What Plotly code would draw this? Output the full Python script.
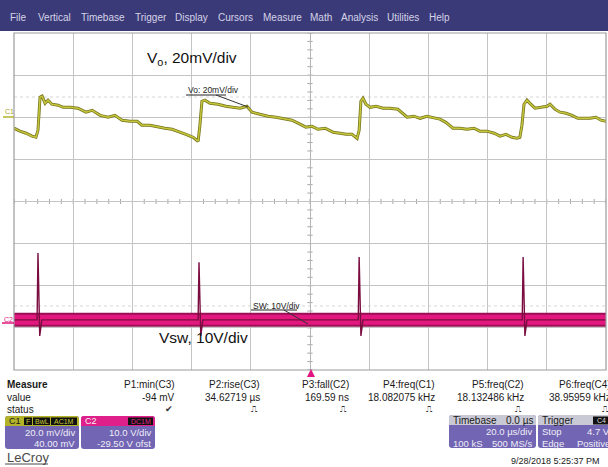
import plotly.graph_objects as go

W, H = 608, 467
FONT = "Liberation Sans, Arial, sans-serif"

# ---------------- data ----------------
# C1: Vo ripple, AC coupled, time in microseconds, value in mV
vo_t = [-100.0, -98.0, -95.9, -93.9, -92.6, -91.9, -91.2, -90.5, -89.5, -88.5, -87.2, -85.1,
        -83.4, -81.1, -78.4, -75.7, -73.6, -70.9, -68.2, -65.9, -63.5, -60.8, -58.4, -56.8,
        -54.1, -51.4, -49.0, -46.6, -44.6, -41.9, -39.5, -37.8, -37.2, -36.5, -35.5, -33.8,
        -31.1, -28.4, -26.0, -23.6, -21.3, -19.6, -16.9, -14.2, -11.5, -9.1, -6.1, -3.4,
        -1.4, 0.7, 2.7, 5.1, 7.8, 10.1, 12.2, 14.2, 15.9, 16.6, 17.2, 17.9,
        18.9, 20.3, 22.3, 24.7, 27.0, 29.7, 31.1, 32.8, 35.1, 37.2, 39.5, 41.6,
        43.9, 45.9, 48.3, 50.7, 53.0, 55.4, 57.4, 59.8, 62.2, 64.2, 66.2, 68.2,
        69.9, 70.9, 71.6, 72.3, 73.3, 74.3, 76.0, 78.0, 80.1, 81.1, 82.8, 84.5,
        86.5, 88.5, 90.5, 92.6, 94.6, 96.6, 98.3, 100.0]
vo_mv = [-5.2, -6.6, -7.6, -9.0, -9.5, -6.2, 9.5, 10.0, 6.6, 8.1, 6.2, 5.7,
         4.7, 4.7, 4.3, 2.4, 3.3, 0.9, 0.0, 0.9, -1.4, -1.9, -1.9, -3.8,
         -3.8, -4.7, -5.2, -5.7, -6.6, -8.1, -9.5, -11.4, -3.8, 7.6, 8.1, 6.6,
         6.2, 5.2, 4.7, 4.3, 5.2, 2.4, 1.4, 0.5, 0.0, -0.5, -1.4, -3.3,
         -4.7, -4.3, -5.7, -5.2, -7.1, -7.6, -8.1, -8.1, -10.0, -6.2, 7.6, 9.0,
         6.2, 4.7, 5.2, 4.3, 4.3, 3.8, 1.9, 0.0, 0.5, -0.5, 0.5, 0.0,
         -0.9, -2.4, -5.2, -5.2, -5.7, -5.2, -6.6, -6.6, -7.6, -9.0, -8.1, -9.5,
         -10.0, -9.5, -3.8, 6.2, 8.1, 6.6, 4.3, 4.7, 5.2, 6.2, 3.8, 2.4,
         1.9, 0.9, -0.5, -0.5, -0.5, 0.0, -1.4, -1.9]

# C2: switch node, time in microseconds, value in volts
sw_t = [-100.0, -92.2, -91.9, -91.6, -91.3, -90.6, -37.8, -37.5, -37.2, -36.9, -36.2,
        16.3, 16.6, 16.9, 17.2, 17.9, 71.7, 72.0, 72.3, 72.6, 73.3, 100.0]
sw_v = [1.4, 1.4, 17.3, 1.4, -2.4, 1.4, 1.4, 15.1, 1.4, -2.4, 1.4,
        1.4, 16.3, 1.4, -2.4, 1.4, 1.4, 16.3, 1.4, -2.4, 1.4, 1.4]
sw_band_t = [-100.0, 100.0]
sw_band_v = [1.4, 1.4]

menu_items = ["File", "Vertical", "Timebase", "Trigger", "Display", "Cursors",
              "Measure", "Math", "Analysis", "Utilities", "Help"]
meas_labels = ["P1:min(C3)", "P2:rise(C3)", "P3:fall(C2)", "P4:freq(C1)",
               "P5:freq(C2)", "P6:freq(C4)"]
meas_values = ["-94 mV", "34.62719 µs", "169.59 ns", "18.082075 kHz",
               "18.132486 kHz", "38.95959 kHz"]
meas_status = ["✔", "⎍", "⎍", "⎍", "⎍", "⎍"]

# ---------------- helpers ----------------
def px(x):
    return x / W

def py(y):
    return 1 - y / H

def ann(x, y, text, size=10, color="#1a1a1a", xa="left", ya="middle", bold=False):
    if bold:
        text = "<b>" + text + "</b>"
    return dict(x=px(x), y=py(y), xref="paper", yref="paper", text=text,
                showarrow=False, xanchor=xa, yanchor=ya,
                font=dict(family=FONT, size=size, color=color))

def rect(x0, y0, x1, y1, fill, line=None):
    return dict(type="rect", xref="paper", yref="paper", x0=px(x0), x1=px(x1),
                y0=py(y1), y1=py(y0), fillcolor=fill,
                line=dict(width=0 if line is None else 1, color=line or fill), layer="above")

def rrect(x0, y0, x1, y1, r, fill, top_only=False):
    rx, ry = r / W, r / H
    X0, X1, Y0, Y1 = px(x0), px(x1), py(y1), py(y0)  # Y0 bottom, Y1 top
    if top_only:
        p = (f"M{X0},{Y0} L{X0},{Y1-ry} Q{X0},{Y1} {X0+rx},{Y1} L{X1-rx},{Y1} "
             f"Q{X1},{Y1} {X1},{Y1-ry} L{X1},{Y0} Z")
    else:
        p = (f"M{X0+rx},{Y0} L{X1-rx},{Y0} Q{X1},{Y0} {X1},{Y0+ry} L{X1},{Y1-ry} "
             f"Q{X1},{Y1} {X1-rx},{Y1} L{X0+rx},{Y1} Q{X0},{Y1} {X0},{Y1-ry} "
             f"L{X0},{Y0+ry} Q{X0},{Y0} {X0+rx},{Y0} Z")
    return dict(type="path", xref="paper", yref="paper", path=p, fillcolor=fill,
                line=dict(width=0), layer="above")

def pline(x0, y0, x1, y1, color, width=1, dash="solid"):
    return dict(type="line", xref="paper", yref="paper", x0=px(x0), y0=py(y0),
                x1=px(x1), y1=py(y1), line=dict(color=color, width=width, dash=dash),
                layer="above")

# ---------------- figure ----------------
fig = go.Figure()

# C2 band and spikes (on the volts axis)
fig.add_trace(go.Scatter(x=sw_band_t, y=sw_band_v, yaxis="y2", mode="lines",
                         line=dict(color="#9a0f55", width=14), hoverinfo="skip", showlegend=False))
fig.add_trace(go.Scatter(x=sw_band_t, y=sw_band_v, yaxis="y2", mode="lines",
                         line=dict(color="#e3187f", width=10), hoverinfo="skip", showlegend=False))
fig.add_trace(go.Scatter(x=sw_t, y=sw_v, yaxis="y2", mode="lines",
                         line=dict(color="#7a0c40", width=1.4), hoverinfo="skip", showlegend=False))

# C1 ripple (on the mV axis)
fig.add_trace(go.Scatter(x=vo_t, y=vo_mv, mode="lines",
                         line=dict(color="#74741e", width=3.0), hoverinfo="skip", showlegend=False))
fig.add_trace(go.Scatter(x=vo_t, y=vo_mv, mode="lines",
                         line=dict(color="#c6c63a", width=1.5), hoverinfo="skip", showlegend=False))

dom_x = [px(14), px(606)]
dom_y = [py(370), py(33)]

fig.update_layout(
    width=W, height=H, margin=dict(l=0, r=0, t=0, b=0),
    paper_bgcolor="white", plot_bgcolor="white", showlegend=False,
    xaxis=dict(domain=dom_x, range=[-100, 100], tick0=0, dtick=20, showgrid=True,
               gridcolor="#c4c4c4", gridwidth=1, zeroline=True, zerolinecolor="#b4b4b4",
               zerolinewidth=1, showticklabels=False, ticks="", fixedrange=True),
    yaxis=dict(domain=dom_y, range=[-120, 40], tick0=0, dtick=20, showgrid=True,
               gridcolor="#c4c4c4", gridwidth=1, zeroline=False, showticklabels=False,
               ticks="", fixedrange=True),
    yaxis2=dict(domain=dom_y, range=[-10.5, 69.5], overlaying="y", showgrid=False,
                zeroline=False, showticklabels=False, ticks="", fixedrange=True),
)

shapes = []
annotations = []

# center-line minor ticks (1/5 division)
for i in range(41):
    v = -120 + 4 * i
    shapes.append(dict(type="line", xref="x", yref="y", x0=-0.9, x1=0.9, y0=v, y1=v,
                       line=dict(color="#a8a8a8", width=1), layer="below"))
for i in range(51):
    t = -100 + 4 * i
    shapes.append(dict(type="line", xref="x", yref="y", x0=t, x1=t, y0=-41.2, y1=-38.8,
                       line=dict(color="#a8a8a8", width=1), layer="below"))
# faint dotted lines
for v in [9.6, -89.6]:
    shapes.append(dict(type="line", xref="x", yref="y", x0=-100, x1=100, y0=v, y1=v,
                       line=dict(color="#d6d6d6", width=1, dash="dot"), layer="below"))

# grid border
shapes.append(dict(type="rect", xref="paper", yref="paper", x0=px(14), x1=px(606),
                   y0=py(370), y1=py(33), line=dict(color="#9c9c9c", width=1.2),
                   fillcolor="rgba(0,0,0,0)", layer="above"))

# menu bar
shapes.append(rect(0, 0, 608, 31, "#3b3a79"))
menu_x = [8, 36, 79, 133, 173, 216, 261, 308, 339, 385, 427]
for name, x in zip(menu_items, menu_x):
    annotations.append(ann(x, 17, name, size=10, color="#d4d4e6"))

# channel markers
annotations.append(ann(3, 111, "C1", size=7, color="#a6a624"))
shapes.append(pline(3, 117, 14, 117, "#b4b42c", 1.5))
annotations.append(ann(2, 319, "C2", size=7, color="#e0157f"))
shapes.append(pline(2, 323, 14, 323, "#e0157f", 1.5))

# trigger marker
shapes.append(dict(type="path", xref="paper", yref="paper",
                   path=f"M{px(307)},{py(377)} L{px(315)},{py(377)} L{px(311)},{py(369)} Z",
                   fillcolor="#e0157f", line=dict(width=0), layer="above"))

# labels on the traces
annotations.append(ann(145, 58, "V<sub>o</sub>, 20mV/div", size=15.5, color="#111111"))
annotations.append(ann(157, 337, "Vsw, 10V/div", size=15.5, color="#111111"))
annotations.append(ann(186, 90, "Vo: 20mV/div", size=8.5, color="#222222"))
shapes.append(pline(186, 95, 226, 95, "#222222", 1))
shapes.append(pline(216, 95, 248, 107, "#333333", 1))
annotations.append(ann(251, 306, "SW: 10V/div", size=8.5, color="#222222"))
shapes.append(pline(251, 310, 297, 310, "#222222", 1))
shapes.append(pline(284, 310, 308, 324, "#333333", 1))

# measurement table
annotations.append(ann(5, 384, "Measure", size=10, bold=True))
annotations.append(ann(5, 397, "value", size=10))
annotations.append(ann(5, 409, "status", size=10))
col_right = [177, 262, 351, 437, 526, 613]
for lab, val, st, xr in zip(meas_labels, meas_values, meas_status, col_right):
    annotations.append(ann(xr, 384, lab, size=10, xa="right"))
    annotations.append(ann(xr, 397, val, size=10, xa="right"))
    annotations.append(ann(xr - 2, 409, st, size=9, xa="right", color="#333333"))

BOX = "#7265b3"
# C1 box
shapes.append(rrect(5, 416, 79, 449, 3, BOX))
shapes.append(rrect(5, 416, 79, 426, 3, "#b3b32a", top_only=True))
annotations.append(ann(7, 421, "C1", size=9, color="#1a1a1a"))
for x0, x1, t in [(24, 32, "F"), (33, 50, "BwL"), (51, 77, "AC1M")]:
    shapes.append(rect(x0, 417.5, x1, 425, "#111111"))
    annotations.append(ann((x0 + x1) / 2, 421.5, t, size=7, color="#c8c83a", xa="center"))
annotations.append(ann(77, 432, "20.0 mV/div", size=9.5, color="#eeeef8", xa="right"))
annotations.append(ann(77, 443, "40.00 mV", size=9.5, color="#eeeef8", xa="right"))

# C2 box
shapes.append(rrect(81, 416, 155, 449, 3, BOX))
shapes.append(rrect(81, 416, 155, 426, 3, "#e0208a", top_only=True))
annotations.append(ann(83, 421, "C2", size=9, color="#f4f4f4"))
shapes.append(rect(128, 417.5, 153, 425, "#111111"))
annotations.append(ann(140.5, 421.5, "DC1M", size=7, color="#e0208a", xa="center"))
annotations.append(ann(153, 432, "10.0 V/div", size=9.5, color="#eeeef8", xa="right"))
annotations.append(ann(153, 443, "-29.50 V ofst", size=9.5, color="#eeeef8", xa="right"))

# Timebase box
shapes.append(rrect(449, 415, 536, 448, 3, BOX))
shapes.append(rrect(449, 415, 536, 425, 3, "#c9c9d6", top_only=True))
annotations.append(ann(451, 420, "Timebase", size=10, color="#1a1a1a"))
annotations.append(ann(535, 420, "0.0 µs", size=10, color="#1a1a1a", xa="right"))
annotations.append(ann(534, 431, "20.0 µs/div", size=9.5, color="#eeeef8", xa="right"))
annotations.append(ann(451, 443, "100 kS", size=9.5, color="#eeeef8"))
annotations.append(ann(534, 443, "500 MS/s", size=9.5, color="#eeeef8", xa="right"))

# Trigger box
shapes.append(rrect(538, 415, 625, 448, 3, BOX))
shapes.append(rrect(538, 415, 625, 425, 3, "#c9c9d6", top_only=True))
annotations.append(ann(540, 420, "Trigger", size=10, color="#1a1a1a"))
shapes.append(rect(593, 416.5, 612, 424.5, "#111111"))
annotations.append(ann(595, 420.5, "C4", size=7, color="#dddddd"))
annotations.append(ann(540, 431, "Stop", size=9.5, color="#eeeef8"))
annotations.append(ann(612, 431, "4.7 V", size=9.5, color="#eeeef8", xa="right"))
annotations.append(ann(540, 443, "Edge", size=9.5, color="#eeeef8"))
annotations.append(ann(612, 443, "Positive", size=9.5, color="#eeeef8", xa="right"))

# footer
annotations.append(ann(5, 457, "LeCroy", size=13, color="#4a4a4a"))
shapes.append(pline(5, 464, 48, 464, "#4a4a4a", 1))
annotations.append(ann(555, 461, "9/28/2018 5:25:37 PM", size=9, color="#1a1a1a", xa="center"))

fig.update_layout(shapes=shapes, annotations=annotations)
fig.write_html("out.html", config={"displayModeBar": False},
               post_script="document.body.style.margin='0';document.body.style.overflow='hidden';")
